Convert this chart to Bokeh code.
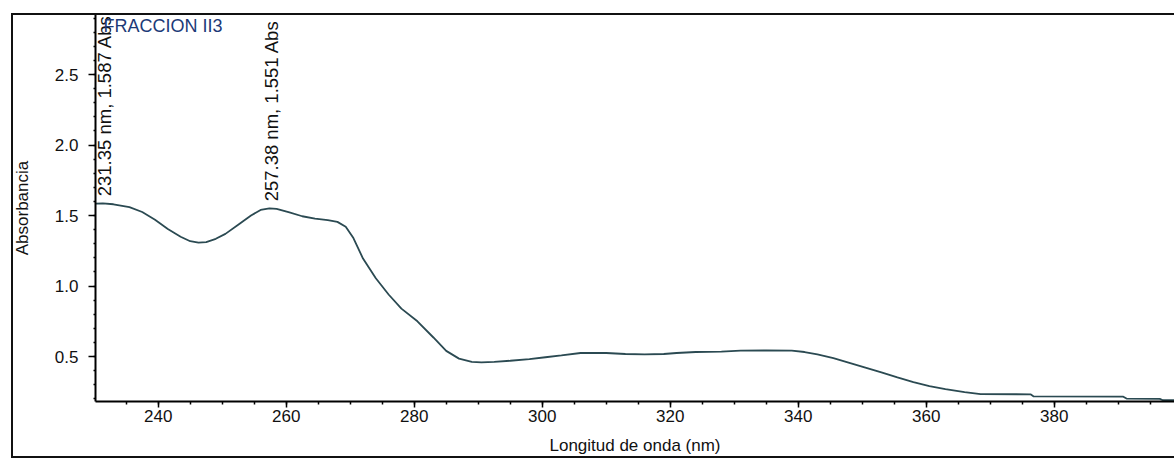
from bokeh.plotting import figure
from bokeh.models import Label, Range1d, FixedTicker, NumeralTickFormatter, InlineStyleSheet
from bokeh.embed import file_html
from bokeh.resources import INLINE

# UV-Vis absorption spectrum, fraction II3
wavelength_nm = [230.0, 231.35, 233.0, 235.5, 237.5, 239.5, 241.5, 243.5, 245.0, 246.3,
                 247.5, 249.0, 250.5, 252.5, 254.5, 256.0, 257.38, 258.5, 260.5, 262.5,
                 264.5, 266.5, 268.0, 269.3, 270.5, 272.0, 274.0, 276.0, 278.0, 280.5,
                 283.0, 285.0, 287.0, 289.0, 290.5, 292.5, 295.0, 298.0, 300.5, 303.0,
                 306.0, 310.0, 313.0, 316.0, 319.0, 321.0, 324.0, 328.0, 331.0, 335.0,
                 339.0, 341.0, 343.0, 345.5, 348.0, 350.5, 353.0, 355.5, 358.0, 360.5,
                 363.0, 366.0, 368.5, 376.3, 376.8, 390.8, 391.3, 396.5, 397.0, 399.0]
absorbance = [1.585, 1.587, 1.580, 1.560, 1.525, 1.470, 1.405, 1.350, 1.318, 1.308,
              1.312, 1.335, 1.370, 1.435, 1.500, 1.540, 1.551, 1.547, 1.522, 1.495,
              1.478, 1.468, 1.455, 1.420, 1.340, 1.195, 1.055, 0.940, 0.840, 0.750,
              0.635, 0.540, 0.485, 0.462, 0.458, 0.462, 0.470, 0.482, 0.495, 0.508,
              0.525, 0.525, 0.518, 0.515, 0.518, 0.525, 0.532, 0.535, 0.542, 0.543,
              0.542, 0.532, 0.515, 0.488, 0.455, 0.422, 0.388, 0.352, 0.318, 0.290,
              0.268, 0.248, 0.234, 0.232, 0.217, 0.215, 0.202, 0.200, 0.190, 0.190]

# labelled absorption maxima
peak_nm = [231.35, 257.38]
peak_abs = [1.587, 1.551]

x_ticks = [240, 260, 280, 300, 320, 340, 360, 380]
y_ticks = [0.5, 1.0, 1.5, 2.0, 2.5]

FONT = "Liberation Sans"
W, H = 1174, 459
TOP, BOTTOM, LEFT = 14, 58, 95
FRAME_H = H - TOP - BOTTOM

# the printed graph is boxed: a border around the whole graph area, drawn as a
# css overlay on the plot element so it can sit outside the data frame
frame_css = InlineStyleSheet(css=f"""
:host {{ position: relative; }}
:host::after {{
  content: "";
  position: absolute;
  left: 11px; top: {TOP - 1}px;
  width: {W - 11}px; height: {H - TOP}px;
  box-sizing: border-box;
  border: 2px solid #111;
  border-right: none;
  pointer-events: none;
}}
""")

p = figure(width=W, height=H, output_backend="svg", toolbar_location=None,
           x_range=Range1d(230.2, 398.8), y_range=Range1d(0.181, 2.926),
           min_border_left=LEFT, min_border_right=0, min_border_top=TOP,
           min_border_bottom=BOTTOM, stylesheets=[frame_css])
p.outline_line_color = None
p.grid.visible = False
p.background_fill_color = "white"
p.border_fill_color = "white"

p.line(wavelength_nm, absorbance, line_color="#2b4a52", line_width=1.8)

xa = p.xaxis[0]
xa.ticker = FixedTicker(ticks=x_ticks, minor_ticks=list(range(230, 400, 5)))
xa.axis_label = "Longitud de onda (nm)"
ya = p.yaxis[0]
ya.ticker = FixedTicker(ticks=y_ticks, minor_ticks=[round(0.2 + 0.1 * i, 1) for i in range(28)])
ya.formatter = NumeralTickFormatter(format="0.0")
ya.axis_label = "Absorbancia"

for ax in (xa, ya):
    ax.axis_line_color = "black"
    ax.axis_line_width = 2
    ax.major_tick_line_color = "black"
    ax.major_tick_line_width = 1.5
    ax.minor_tick_line_color = "black"
    ax.minor_tick_line_width = 1.5
    ax.major_tick_in = 0
    ax.minor_tick_in = 0
    ax.major_label_text_font = FONT
    ax.major_label_text_font_size = "17px"
    ax.major_label_text_color = "#111111"
    ax.axis_label_text_font = FONT
    ax.axis_label_text_font_style = "normal"
    ax.axis_label_text_font_size = "17px"
    ax.axis_label_text_color = "#111111"

xa.major_tick_out = 6
xa.minor_tick_out = 3
xa.major_label_standoff = 2
xa.axis_label_standoff = 11
ya.major_tick_out = 7
ya.minor_tick_out = 2
ya.major_label_standoff = 10
ya.axis_label_standoff = 20

# peak annotations, written upward from each maximum
for nm, ab in zip(peak_nm, peak_abs):
    p.add_layout(Label(x=nm, y=ab, text=f"{nm:.2f} nm, {ab:.3f} Abs",
                       angle=90, angle_units="deg", text_align="left", text_baseline="middle",
                       x_offset=2, y_offset=7, text_font=FONT, text_font_size="18.5px",
                       text_color="#111111"))

# sample name in the upper left corner of the frame
p.add_layout(Label(x=8, y=FRAME_H - 11, x_units="screen", y_units="screen",
                   text="FRACCION II3", text_align="left", text_baseline="middle",
                   text_font=FONT, text_font_size="18px", text_color="#1c3a78"))

open("out.html", "w").write(file_html(p, INLINE))
